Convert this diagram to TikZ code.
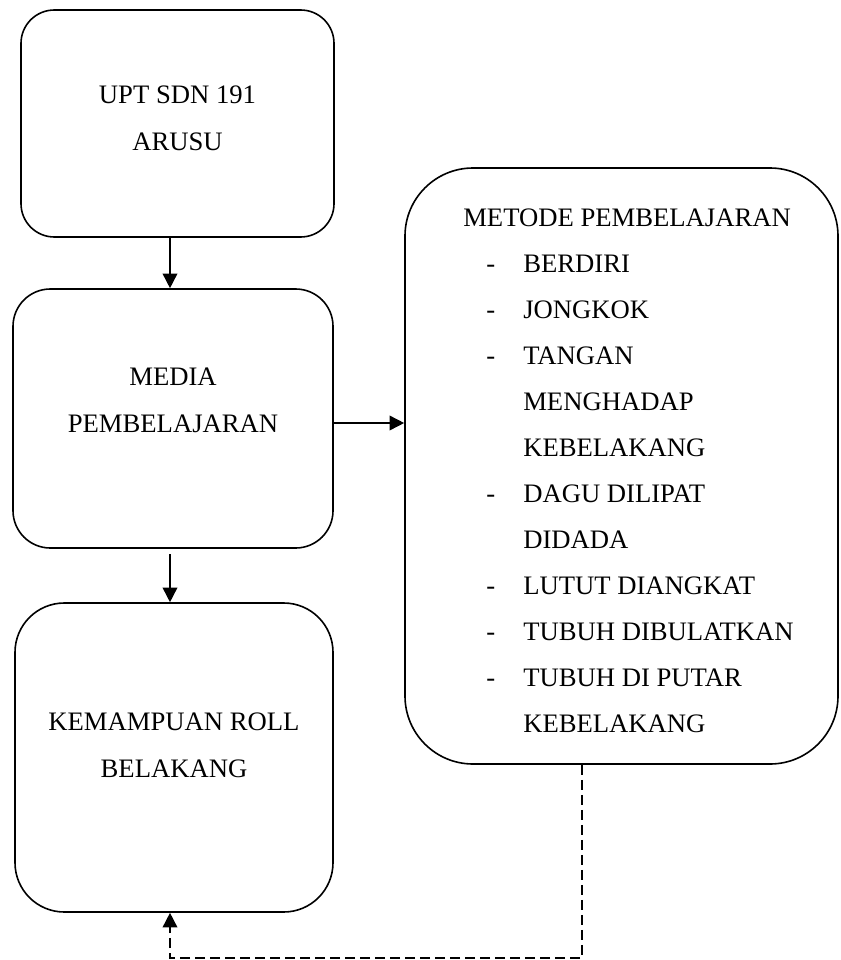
\documentclass[tikz,border=0pt]{standalone}
\usepackage{fontspec}
\setmainfont{Liberation Serif}
\usetikzlibrary{arrows.meta, positioning, calc}

\newcommand{\dashitem}[1]{\makebox[45pt][l]{\hspace*{17.25pt}-}#1}
\newcommand{\contitem}[1]{\hspace*{45pt}#1}

\begin{document}
\begin{tikzpicture}[
    x=0.75pt, y=-0.75pt,
    box/.style={rectangle, draw=black, line width=1.2pt, rounded corners=#1, inner sep=0pt},
    box/.default=30pt,
    txt/.style={align=center, inner sep=0pt, anchor=base, font=\fontsize{20}{35}\selectfont},
    arrow/.style={-{Triangle[length=11pt, width=11pt]}, line width=1.2pt},
    dasharrow/.style={arrow, dash pattern=on 7.5pt off 3.75pt}
]
\useasboundingbox (0,0) rectangle (840,960);

% boxes
\node[box=25pt, minimum width=234.75pt, minimum height=170.25pt] (upt) at (177.5,123.5) {};
\node[box=28pt, minimum width=240pt, minimum height=194.25pt] (media) at (173,418.5) {};
\node[box=37pt, minimum width=238.5pt, minimum height=231.75pt] (kemampuan) at (174,757.5) {};
\node[box=51pt, minimum width=324.75pt, minimum height=447pt] (metode) at (621.5,466) {};

% texts (base = baseline of the last line)
\node[txt] (upttxt) at (177.5,150) {UPT SDN 191\\ARUSU};
\node[txt] (mediatxt) at (173,432) {MEDIA\\PEMBELAJARAN};
\node[txt] (kemampuantxt) at (174,777) {KEMAMPUAN ROLL\\BELAKANG};
\node[txt, align=left, anchor=base west, font=\fontsize{20}{34.5}\selectfont] (metodetxt) at (463,732) {METODE PEMBELAJARAN\\
    \dashitem{BERDIRI}\\
    \dashitem{JONGKOK}\\
    \dashitem{TANGAN}\\
    \contitem{MENGHADAP}\\
    \contitem{KEBELAKANG}\\
    \dashitem{DAGU DILIPAT}\\
    \contitem{DIDADA}\\
    \dashitem{LUTUT DIANGKAT}\\
    \dashitem{TUBUH DIBULATKAN}\\
    \dashitem{TUBUH DI PUTAR}\\
    \contitem{KEBELAKANG}};

% connectors
\coordinate (ax) at (170,0);
\coordinate (ay) at (0,423);
\coordinate (dx) at (582,0);
\coordinate (dy) at (0,958);

\draw[arrow] (upt.south -| ax) -- (media.north -| ax);
\draw[arrow] ([yshift=-4pt]media.south -| ax) -- (kemampuan.north -| ax);
\draw[arrow] (media.east |- ay) -- (metode.west |- ay);
\draw[dasharrow] (metode.south -| dx) -- (dx |- dy) -- (ax |- dy) -- (kemampuan.south -| ax);

\end{tikzpicture}
\end{document}
